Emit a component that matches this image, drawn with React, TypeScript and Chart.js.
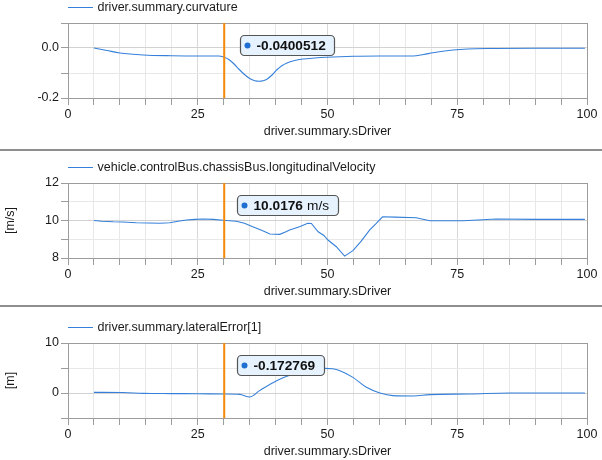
import React, { useEffect, useRef } from "react";
import { Chart, registerables } from "chart.js";

Chart.register(...registerables);

const FAMILY = "'Liberation Sans', Arial, sans-serif";

// ---- data ----
const xAxisTitle = "driver.summary.sDriver";
const xTickLabels = [0, 25, 50, 75, 100];
const cursorS = 30.1;

const curvatureName = "driver.summary.curvature";
const curvatureS = [5, 7.5, 10, 14.5, 20, 25, 29, 30, 31, 32, 33, 34, 35, 36, 36.8, 37.6, 38.4, 39.2, 40.2, 41.2, 42.2, 43.5, 45.3, 47.5, 49.8, 55, 60, 66.5, 68.5, 70.3, 72.2, 74.2, 77, 80.6, 90, 99.6];
const curvatureValues = [0.0, -0.01, -0.02, -0.028, -0.031, -0.032, -0.032, -0.036, -0.046, -0.064, -0.086, -0.106, -0.122, -0.131, -0.133, -0.131, -0.124, -0.11, -0.088, -0.071, -0.06, -0.051, -0.044, -0.04, -0.037, -0.033, -0.032, -0.032, -0.026, -0.019, -0.013, -0.008, -0.004, -0.002, -0.001, -0.001];
const curvatureCursorLabel = "-0.0400512";

const velocityName = "vehicle.controlBus.chassisBus.longitudinalVelocity";
const velocityS = [5, 6.5, 8.7, 10.5, 13.2, 15.5, 17.7, 19.6, 21.2, 22.8, 24.5, 26.0, 28.0, 29.9, 32.4, 34.0, 35.6, 37.3, 38.9, 40.8, 42.0, 42.7, 44.6, 46.2, 46.9, 48.2, 49.3, 50.1, 51.7, 53.3, 54.9, 56.5, 58.1, 59.4, 60.6, 63, 67.1, 69.7, 76.1, 79, 82.5, 90, 99.6];
const velocityValues = [10.0, 9.96, 9.93, 9.92, 9.88, 9.87, 9.85, 9.88, 9.96, 10.03, 10.06, 10.08, 10.06, 10.01, 9.96, 9.85, 9.67, 9.48, 9.28, 9.26, 9.4, 9.49, 9.67, 9.85, 9.84, 9.4, 9.2, 8.96, 8.6, 8.1, 8.39, 8.9, 9.49, 9.85, 10.2, 10.18, 10.15, 9.99, 9.99, 10.03, 10.08, 10.06, 10.06];
const velocityCursorLabel = "10.0176";
const velocityUnit = "m/s";

const lateralName = "driver.summary.lateralError[1]";
const lateralS = [5, 10.6, 14.5, 20, 25, 29.9, 33.1, 35, 36.9, 40.2, 43.4, 47.3, 49.5, 51, 52.4, 54.9, 57.5, 60.1, 62.6, 66.5, 69.7, 77.4, 85.1, 99.6];
const lateralValues = [0.13, 0.1, -0.07, -0.12, -0.15, -0.2, -0.27, -0.8, 0.47, 2.46, 3.8, 4.8, 4.93, 4.85, 4.46, 3.13, 1.13, 0.0, -0.53, -0.6, -0.33, -0.2, 0.0, 0.0];
const lateralCursorLabel = "-0.172769";

const LINE_COLOR = "#3580da";
const CURSOR_COLOR = "#f5890a";

type PanelDef = {
  name: string;
  s: number[];
  v: number[];
  yMin: number;
  yMax: number;
  yStep: number;
  yLabelEvery: number;
  yDecimals: number;
  yTitle: string;
  height: number;
  top: number;
  bottomPad: number;
  smooth: boolean;
  cursorLabel: string;
  cursorUnit: string;
  boxDx: number;
};

const panels: PanelDef[] = [
  { name: curvatureName, s: curvatureS, v: curvatureValues, yMin: -0.2, yMax: 0.1, yStep: 0.1, yLabelEvery: 0.2, yDecimals: 1, yTitle: "", height: 149, top: 23, bottomPad: 9, smooth: true, cursorLabel: curvatureCursorLabel, cursorUnit: "", boxDx: 16 },
  { name: velocityName, s: velocityS, v: velocityValues, yMin: 8, yMax: 12, yStep: 1, yLabelEvery: 2, yDecimals: 0, yTitle: "[m/s]", height: 154, top: 32, bottomPad: 5, smooth: false, cursorLabel: velocityCursorLabel, cursorUnit: velocityUnit, boxDx: 12.7 },
  { name: lateralName, s: lateralS, v: lateralValues, yMin: -5, yMax: 10, yStep: 5, yLabelEvery: 10, yDecimals: 0, yTitle: "[m]", height: 153, top: 36, bottomPad: 0, smooth: true, cursorLabel: lateralCursorLabel, cursorUnit: "", boxDx: 12.7 },
];

function isMultiple(v: number, step: number) {
  const r = v / step;
  return Math.abs(r - Math.round(r)) < 1e-6;
}

function makeChart(canvas: HTMLCanvasElement, p: PanelDef) {
  const overlay = {
    id: "overlay",
    afterDatasetsDraw(chart: any) {
      const ctx = chart.ctx as CanvasRenderingContext2D;
      const a = chart.chartArea;
      const xs = chart.scales.x;
      ctx.save();
      // frame
      ctx.strokeStyle = "#9c9c9c";
      ctx.lineWidth = 1;
      ctx.strokeRect(Math.round(a.left) + 0.5, Math.round(a.top) + 0.5, Math.round(a.right - a.left), Math.round(a.bottom - a.top));
      // cursor
      const cx = xs.getPixelForValue(cursorS);
      ctx.strokeStyle = CURSOR_COLOR;
      ctx.lineWidth = 2;
      ctx.beginPath();
      ctx.moveTo(cx, a.top);
      ctx.lineTo(cx, a.bottom);
      ctx.stroke();
      // legend
      const ly = a.top - 15.7;
      ctx.strokeStyle = LINE_COLOR;
      ctx.lineWidth = 1;
      ctx.beginPath();
      ctx.moveTo(a.left, Math.round(ly) + 0.5);
      ctx.lineTo(a.left + 25, Math.round(ly) + 0.5);
      ctx.stroke();
      ctx.fillStyle = "#1a1a1a";
      ctx.font = `12.5px ${FAMILY}`;
      ctx.textBaseline = "middle";
      ctx.textAlign = "left";
      ctx.fillText(p.name, a.left + 29.5, ly + 0.5);
      // tooltip box
      const boldFont = `bold 13.7px ${FAMILY}`;
      const normFont = `13.7px ${FAMILY}`;
      ctx.font = boldFont;
      const w1 = ctx.measureText(p.cursorLabel).width;
      let w = w1;
      if (p.cursorUnit) {
        ctx.font = normFont;
        w += 4 + ctx.measureText(p.cursorUnit).width;
      }
      const bx = Math.round(cx + p.boxDx) + 0.5;
      const by = Math.round(a.top + 11.5) + 0.5;
      const bh = 20;
      const bw = Math.round(16 + w + 9);
      ctx.beginPath();
      (ctx as any).roundRect(bx, by, bw, bh, 4);
      ctx.fillStyle = "#e6f3ff";
      ctx.fill();
      ctx.strokeStyle = "#555555";
      ctx.lineWidth = 1.2;
      ctx.stroke();
      ctx.beginPath();
      ctx.arc(bx + 7, by + bh / 2, 3, 0, Math.PI * 2);
      ctx.fillStyle = "#1f6fd0";
      ctx.fill();
      ctx.fillStyle = "#111111";
      ctx.font = boldFont;
      ctx.textBaseline = "middle";
      ctx.fillText(p.cursorLabel, bx + 16, by + bh / 2 + 0.5);
      if (p.cursorUnit) {
        ctx.font = normFont;
        ctx.fillText(p.cursorUnit, bx + 16 + w1 + 4, by + bh / 2 + 0.5);
      }
      ctx.restore();
    },
  };

  return new Chart(canvas, {
    type: "line",
    data: {
      datasets: [
        {
          label: p.name,
          data: p.s.map((x, i) => ({ x, y: p.v[i] })),
          borderColor: LINE_COLOR,
          borderWidth: 1.1,
          pointRadius: 0,
          fill: false,
          tension: 0,
          cubicInterpolationMode: p.smooth ? "monotone" : "default",
        } as any,
      ],
    },
    options: {
      animation: false,
      responsive: false,
      maintainAspectRatio: false,
      layout: { padding: { left: 0, right: 15, top: p.top, bottom: p.bottomPad } },
      plugins: { legend: { display: false }, tooltip: { enabled: false } },
      scales: {
        x: {
          type: "linear",
          min: 0,
          max: 100,
          afterFit: (s: any) => {
            s.height = 42;
          },
          ticks: {
            stepSize: 5,
            autoSkip: false,
            maxRotation: 0,
            padding: 2,
            color: "#1a1a1a",
            font: { family: FAMILY, size: 12.5 },
            callback: (v: any) => (xTickLabels.includes(Number(v)) ? String(v) : ""),
          },
          grid: {
            color: (c: any) => (c.tick && xTickLabels.includes(c.tick.value) ? "#d9d9d9" : "#e8e8e8"),
            tickColor: "#9c9c9c",
            tickLength: 7,
          },
          border: { display: false },
          title: {
            display: true,
            text: xAxisTitle,
            color: "#1a1a1a",
            font: { family: FAMILY, size: 12.5 },
            padding: { top: 0, bottom: 1 },
          },
        },
        y: {
          type: "linear",
          min: p.yMin,
          max: p.yMax,
          afterFit: (s: any) => {
            s.width = 68;
          },
          ticks: {
            stepSize: p.yStep,
            autoSkip: false,
            padding: 2,
            color: "#1a1a1a",
            font: { family: FAMILY, size: 12.5 },
            callback: (v: any) => (isMultiple(Number(v), p.yLabelEvery) ? Number(v).toFixed(p.yDecimals).replace(/^-(0\.?0*)$/, "$1") : ""),
          },
          grid: {
            color: (c: any) => (c.tick && isMultiple(c.tick.value, p.yLabelEvery) ? "#d2d2d2" : "#e8e8e8"),
            tickColor: "#9c9c9c",
            tickLength: 7,
          },
          border: { display: false },
          title: {
            display: !!p.yTitle,
            text: p.yTitle,
            color: "#1a1a1a",
            font: { family: FAMILY, size: 12.5 },
            padding: { top: 3.5, bottom: 0 },
          },
        },
      },
    } as any,
    plugins: [overlay],
  });
}

function Panel({ p }: { p: PanelDef }) {
  const ref = useRef<HTMLCanvasElement | null>(null);
  useEffect(() => {
    document.body.style.margin = "0";
    if (!ref.current) return;
    const chart = makeChart(ref.current, p);
    return () => chart.destroy();
  }, [p]);
  return (
    <div style={{ height: p.height, width: 602 }}>
      <canvas ref={ref} width={602} height={p.height} style={{ display: "block" }} />
    </div>
  );
}

function Separator() {
  return <div style={{ height: 2, width: 602, background: "#8e8e8e" }} />;
}

export default function App() {
  return (
    <div style={{ width: 602, height: 460, background: "#ffffff", overflow: "hidden" }}>
      <Panel p={panels[0]} />
      <Separator />
      <Panel p={panels[1]} />
      <Separator />
      <Panel p={panels[2]} />
    </div>
  );
}
